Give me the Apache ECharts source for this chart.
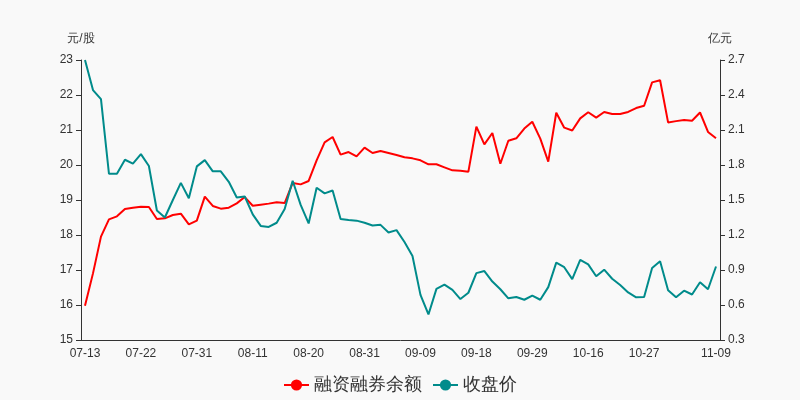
<!DOCTYPE html>
<html>
<head>
<meta charset="utf-8">
<script src="https://cdn.jsdelivr.net/npm/echarts@6/dist/echarts.min.js"></script>
<style>
html,body{margin:0;padding:0;background:#f9f9f9;}
#main{width:800px;height:400px;}
</style>
</head>
<body>
<div id="main"></div>
<script>
const dates = [
  '07-13','07-14','07-15','07-16','07-17','07-20','07-21','07-22','07-23','07-24','07-27','07-28','07-29','07-30','07-31',
  '08-03','08-04','08-05','08-06','08-07','08-10','08-11','08-12','08-13','08-14','08-17','08-18','08-19','08-20','08-21','08-24','08-25','08-26','08-27','08-28','08-31',
  '09-01','09-02','09-03','09-04','09-07','09-08','09-09','09-10','09-11','09-14','09-15','09-16','09-17','09-18','09-21','09-22','09-23','09-24','09-25','09-28','09-29','09-30',
  '10-09','10-12','10-13','10-14','10-15','10-16','10-19','10-20','10-21','10-22','10-23','10-26','10-27','10-28','10-29','10-30',
  '11-02','11-03','11-04','11-05','11-06','11-09'
];
// 融资融券余额 (亿元), right axis
const marginBalance = [
  0.594, 0.871, 1.186, 1.334, 1.360, 1.423, 1.434, 1.443, 1.440, 1.337,
  1.343, 1.371, 1.383, 1.291, 1.323, 1.529, 1.449, 1.426, 1.434, 1.471,
  1.525, 1.451, 1.460, 1.469, 1.480, 1.474, 1.646, 1.634, 1.663, 1.840,
  1.994, 2.040, 1.889, 1.911, 1.874, 1.949, 1.903, 1.920, 1.903, 1.886,
  1.866, 1.857, 1.840, 1.806, 1.806, 1.780, 1.754, 1.751, 1.743, 2.129,
  1.977, 2.074, 1.811, 2.008, 2.029, 2.112, 2.171, 2.026, 1.829, 2.248,
  2.120, 2.096, 2.200, 2.252, 2.206, 2.254, 2.237, 2.237, 2.255, 2.288,
  2.308, 2.508, 2.526, 2.165, 2.176, 2.186, 2.179, 2.250, 2.083, 2.029
];
// 收盘价 (元/股), left axis
const closePrice = [
  23.00, 22.14, 21.88, 19.75, 19.75, 20.15, 20.04, 20.31, 19.97, 18.70,
  18.50, 19.00, 19.49, 19.05, 19.96, 20.14, 19.82, 19.82, 19.52, 19.07,
  19.10, 18.59, 18.26, 18.23, 18.35, 18.74, 19.55, 18.86, 18.33, 19.35,
  19.19, 19.27, 18.46, 18.43, 18.41, 18.35, 18.27, 18.29, 18.07, 18.14,
  17.80, 17.40, 16.29, 15.73, 16.46, 16.58, 16.43, 16.17, 16.35, 16.91,
  16.97, 16.67, 16.45, 16.19, 16.23, 16.15, 16.27, 16.15, 16.51, 17.21,
  17.08, 16.74, 17.29, 17.16, 16.82, 17.01, 16.75, 16.57, 16.36, 16.22,
  16.23, 17.06, 17.25, 16.42, 16.22, 16.41, 16.30, 16.65, 16.45, 17.10
];
const leftAxis = {name: '元/股', min: 15, max: 23, interval: 1};
const rightAxis = {name: '亿元', min: 0.3, max: 2.7, interval: 0.3};
const seriesNames = ['融资融券余额', '收盘价'];
const colors = ['#ff0000', '#008b8b'];

const chart = echarts.init(document.getElementById('main'));
const axisCommon = {
  axisLine: {show: true, lineStyle: {color: '#333'}},
  axisTick: {show: true, lineStyle: {color: '#333'}},
  axisLabel: {color: '#333', fontSize: 12},
  splitLine: {show: false},
  nameTextStyle: {color: '#333', fontSize: 12}
};
chart.setOption({
  backgroundColor: '#f9f9f9',
  animation: false,
  color: colors,
  grid: {left: 81, right: 80, top: 60, bottom: 60},
  legend: {
    bottom: 1,
    itemWidth: 25,
    itemHeight: 14,
    itemGap: 10,
    textStyle: {fontSize: 18, color: '#333'},
    data: seriesNames
  },
  xAxis: {
    type: 'category',
    data: dates,
    boundaryGap: true,
    axisLine: {lineStyle: {color: '#333'}},
    axisTick: {lineStyle: {color: '#333'}},
    axisLabel: {color: '#333', fontSize: 12, interval: 6, showMaxLabel: true}
  },
  yAxis: [
    Object.assign({type: 'value', position: 'left', name: leftAxis.name,
      min: leftAxis.min, max: leftAxis.max, interval: leftAxis.interval}, axisCommon),
    Object.assign({type: 'value', position: 'right', name: rightAxis.name,
      min: rightAxis.min, max: rightAxis.max, interval: rightAxis.interval}, axisCommon)
  ],
  series: [
    {name: seriesNames[0], type: 'line', yAxisIndex: 1, data: marginBalance,
     symbol: 'circle', symbolSize: 8, showSymbol: false,
     lineStyle: {width: 2, color: colors[0]}, itemStyle: {color: colors[0]}},
    {name: seriesNames[1], type: 'line', yAxisIndex: 0, data: closePrice,
     symbol: 'circle', symbolSize: 8, showSymbol: false,
     lineStyle: {width: 2, color: colors[1]}, itemStyle: {color: colors[1]}}
  ]
});
</script>
</body>
</html>
